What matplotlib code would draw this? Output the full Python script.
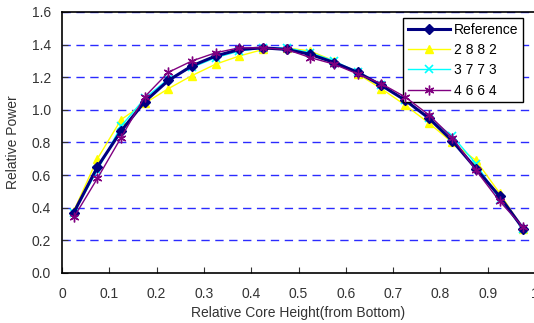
import matplotlib
matplotlib.use("Agg")
import matplotlib.pyplot as plt

plt.rcParams['font.family'] = ['Liberation Sans', 'DejaVu Sans']

x = [0.025, 0.075, 0.125, 0.175, 0.225, 0.275, 0.325, 0.375, 0.425, 0.475,
     0.525, 0.575, 0.625, 0.675, 0.725, 0.775, 0.825, 0.875, 0.925, 0.975]
reference = [0.37, 0.65, 0.87, 1.05, 1.18, 1.27, 1.33, 1.37, 1.38, 1.37,
             1.34, 1.29, 1.23, 1.15, 1.06, 0.95, 0.81, 0.64, 0.47, 0.27]
s2882 = [0.38, 0.70, 0.94, 1.04, 1.13, 1.21, 1.28, 1.33, 1.37, 1.38,
         1.36, 1.30, 1.22, 1.13, 1.03, 0.92, 0.80, 0.69, 0.49, 0.27]
s3773 = [0.37, 0.63, 0.90, 1.07, 1.19, 1.26, 1.32, 1.36, 1.38, 1.38,
         1.35, 1.30, 1.23, 1.15, 1.06, 0.95, 0.84, 0.67, 0.45, 0.27]
s4664 = [0.34, 0.58, 0.83, 1.08, 1.23, 1.30, 1.35, 1.38, 1.38, 1.37,
         1.32, 1.28, 1.22, 1.16, 1.08, 0.97, 0.83, 0.63, 0.44, 0.28]

xticks = [0, 0.1, 0.2, 0.3, 0.4, 0.5, 0.6, 0.7, 0.8, 0.9, 1.0]
xticklabels = ['0', '0.1', '0.2', '0.3', '0.4', '0.5', '0.6', '0.7', '0.8', '0.9', '1']
yticks = [0.0, 0.2, 0.4, 0.6, 0.8, 1.0, 1.2, 1.4, 1.6]

fig = plt.figure(figsize=(5.34, 3.23), dpi=100)
ax = fig.add_axes([0.116, 0.155, 0.886, 0.808])

for yv in yticks[1:]:
    ax.axhline(yv, color='#2b2bff', lw=1.0, ls=(0, (6, 4)), zorder=1)

ax.plot(x, reference, color='#000080', lw=2.2, marker='D', ms=5.5, label='Reference', zorder=5)
ax.plot(x, s2882, color='#ffff00', lw=1.0, marker='^', ms=6, label='2 8 8 2', zorder=3)
ax.plot(x, s3773, color='#00ffff', lw=1.0, marker='x', ms=6, mew=1.2, label='3 7 7 3', zorder=4)
ax.plot(x, s4664, color='#800080', lw=1.0, marker=(6, 2, 0), ms=7, mew=1.0, label='4 6 6 4', zorder=6)

ax.set_xlim(0, 1.0)
ax.set_ylim(0, 1.6)
ax.set_xticks(xticks)
ax.set_xticklabels(xticklabels)
ax.set_yticks(yticks)
ax.set_yticklabels(['%.1f' % v for v in yticks])
ax.tick_params(direction='in', labelsize=10, colors='#333333', length=4, pad=8)
ax.tick_params(axis='x', pad=10)
for s in ax.spines.values():
    s.set_color('black')
    s.set_linewidth(1.2)

ax.set_xlabel('Relative Core Height(from Bottom)', fontsize=10, color='#333333', labelpad=4)
ax.set_ylabel('Relative Power', fontsize=10, color='#333333', labelpad=8)

leg = ax.legend(loc='upper right', bbox_to_anchor=(0.975, 0.977), fontsize=10,
                frameon=True, fancybox=False, edgecolor='black', framealpha=1,
                handlelength=3.0, borderpad=0.35, labelspacing=0.45, handletextpad=0.3,
                borderaxespad=0.0)
leg.get_frame().set_linewidth(1.0)

fig.savefig('out.png', dpi=100)
